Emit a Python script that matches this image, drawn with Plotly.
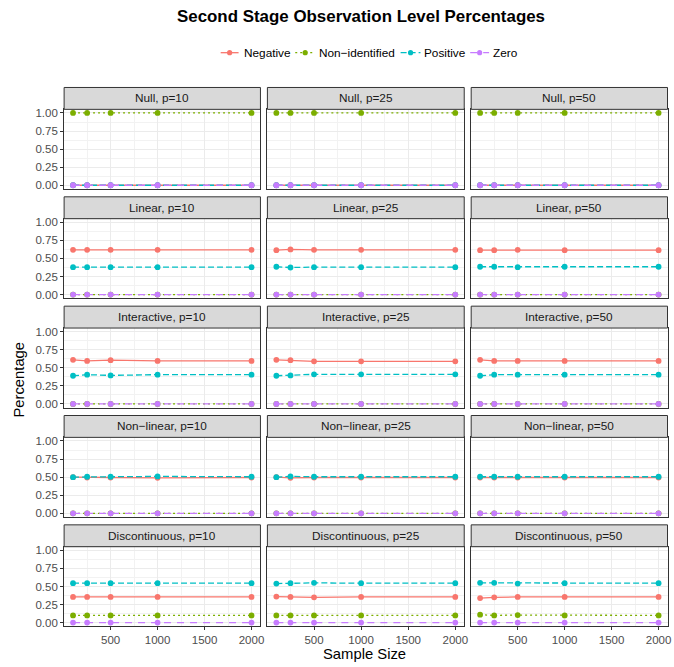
import plotly.graph_objects as go

W, H = 674, 667

sample_sizes = [100, 250, 500, 1000, 2000]
models = ["Null", "Linear", "Interactive", "Non\u2212linear", "Discontinuous"]
p_values = [10, 25, 50]
series_names = ["Negative", "Non\u2212identified", "Positive", "Zero"]
series_colors = ["#F8766D", "#7CAE00", "#00BFC4", "#C77CFF"]
series_dashes = ["solid", "2px,3px", "6px,3px", "7px,6px"]

zeros = [0, 0, 0, 0, 0]
null_neg = [0, 0, 0, 0, 0]
null_nonid = [1, 1, 1, 1, 1]
null_pos = [0, 0, 0, 0, 0]

lin10_neg = [0.62, 0.62, 0.62, 0.62, 0.62]
lin10_pos = [0.38, 0.38, 0.38, 0.38, 0.38]
lin25_neg = [0.615, 0.625, 0.62, 0.62, 0.62]
lin25_pos = [0.385, 0.375, 0.38, 0.38, 0.38]
lin50_neg = [0.615, 0.615, 0.62, 0.615, 0.615]
lin50_pos = [0.385, 0.385, 0.38, 0.385, 0.385]

int10_neg = [0.61, 0.595, 0.605, 0.595, 0.595]
int10_pos = [0.39, 0.405, 0.395, 0.405, 0.405]
int25_neg = [0.61, 0.605, 0.59, 0.59, 0.59]
int25_pos = [0.39, 0.395, 0.41, 0.41, 0.41]
int50_neg = [0.61, 0.595, 0.595, 0.595, 0.595]
int50_pos = [0.39, 0.405, 0.405, 0.405, 0.405]

nl10_neg = [0.5, 0.495, 0.495, 0.49, 0.495]
nl10_pos = [0.5, 0.505, 0.505, 0.51, 0.505]
nl25_neg = [0.5, 0.49, 0.495, 0.495, 0.495]
nl25_pos = [0.5, 0.51, 0.505, 0.505, 0.505]
nl50_neg = [0.495, 0.495, 0.495, 0.495, 0.495]
nl50_pos = [0.505, 0.505, 0.505, 0.505, 0.505]

dis10_neg = [0.355, 0.355, 0.355, 0.355, 0.355]
dis10_nonid = [0.10, 0.10, 0.10, 0.10, 0.10]
dis10_pos = [0.545, 0.545, 0.545, 0.545, 0.545]
dis25_neg = [0.36, 0.355, 0.35, 0.355, 0.355]
dis25_nonid = [0.10, 0.10, 0.10, 0.10, 0.10]
dis25_pos = [0.54, 0.545, 0.55, 0.545, 0.545]
dis50_neg = [0.34, 0.35, 0.355, 0.355, 0.355]
dis50_nonid = [0.11, 0.10, 0.105, 0.10, 0.10]
dis50_pos = [0.55, 0.55, 0.54, 0.545, 0.545]

panel_values = [
    [[null_neg, null_nonid, null_pos, zeros]] * 3,
    [[lin10_neg, zeros, lin10_pos, zeros], [lin25_neg, zeros, lin25_pos, zeros], [lin50_neg, zeros, lin50_pos, zeros]],
    [[int10_neg, zeros, int10_pos, zeros], [int25_neg, zeros, int25_pos, zeros], [int50_neg, zeros, int50_pos, zeros]],
    [[nl10_neg, zeros, nl10_pos, zeros], [nl25_neg, zeros, nl25_pos, zeros], [nl50_neg, zeros, nl50_pos, zeros]],
    [[dis10_neg, dis10_nonid, dis10_pos, zeros], [dis25_neg, dis25_nonid, dis25_pos, zeros], [dis50_neg, dis50_nonid, dis50_pos, zeros]],
]

x_ticks = [500, 1000, 1500, 2000]
x_minor = [250, 750, 1250, 1750]
y_ticks = [0, 0.25, 0.5, 0.75, 1.0]
y_ticktext = ["0.00", "0.25", "0.50", "0.75", "1.00"]
y_minor = [0.125, 0.375, 0.625, 0.875]

# pixel layout
col_px = [(64.5, 262), (269, 467), (474, 671.5)]
row_px = [(86, 108, 188), (196, 218, 298), (306, 328, 408), (416, 438, 518), (526, 548, 628)]
legend_key_px = [(222, 240, 245), (297, 317, 321), (403, 423, 427), (473, 492, 496)]
legend_y_px = 51

FONT = "Liberation Sans, Arial, Helvetica, sans-serif"

def px_x(v):
    return v / W

def px_y(v):
    return 1 - v / H

fig = go.Figure()
layout = {}
shapes = []
annotations = []

for r, model in enumerate(models):
    for c, p in enumerate(p_values):
        idx = r * 3 + c + 1
        xa = "x" if idx == 1 else f"x{idx}"
        ya = "y" if idx == 1 else f"y{idx}"
        vals = panel_values[r][c]
        for s, name in enumerate(series_names):
            fig.add_trace(go.Scatter(
                x=sample_sizes, y=vals[s], mode="lines+markers", name=name,
                legendgroup=name, showlegend=False,
                line=dict(color=series_colors[s], width=1.3, dash=series_dashes[s]),
                marker=dict(color=series_colors[s], size=5.8),
                xaxis=xa, yaxis=ya,
            ))
        x0, x1 = col_px[c]
        st, sb, pb = row_px[r]
        bottom = (r == len(models) - 1)
        left = (c == 0)
        layout["xaxis" if idx == 1 else f"xaxis{idx}"] = dict(
            domain=[px_x(x0), px_x(x1)], anchor=ya, range=[5, 2095],
            tickvals=x_ticks, ticktext=[str(t) for t in x_ticks],
            showticklabels=bottom, ticks="outside" if bottom else "",
            ticklen=3, tickcolor="#333333", tickwidth=1,
            tickfont=dict(family=FONT, size=11.5, color="#4D4D4D"),
            showgrid=True, gridcolor="#EBEBEB", gridwidth=1.1,
            minor=dict(tickvals=x_minor, showgrid=True, gridcolor="#F2F2F2", gridwidth=0.6, ticks=""),
            showline=True, mirror=True, linecolor="#333333", linewidth=1,
            zeroline=False, fixedrange=True,
        )
        layout["yaxis" if idx == 1 else f"yaxis{idx}"] = dict(
            domain=[px_y(pb), px_y(sb)], anchor=xa, range=[-0.05, 1.05],
            tickvals=y_ticks, ticktext=y_ticktext,
            showticklabels=left, ticks="outside" if left else "",
            ticklen=3, tickcolor="#333333", tickwidth=1,
            tickfont=dict(family=FONT, size=11.5, color="#4D4D4D"),
            showgrid=True, gridcolor="#EBEBEB", gridwidth=1.1,
            minor=dict(tickvals=y_minor, showgrid=True, gridcolor="#F2F2F2", gridwidth=0.6, ticks=""),
            showline=True, mirror=True, linecolor="#333333", linewidth=1,
            zeroline=False, fixedrange=True,
        )
        shapes.append(dict(type="rect", xref="paper", yref="paper",
                           x0=px_x(x0), x1=px_x(x1), y0=px_y(sb), y1=px_y(st),
                           fillcolor="#D9D9D9", line=dict(color="#333333", width=1), layer="above"))
        annotations.append(dict(text=f"{model}, p={p}", xref="paper", yref="paper",
                                x=px_x((x0 + x1) / 2), y=px_y((st + sb) / 2),
                                xanchor="center", yanchor="middle", showarrow=False,
                                font=dict(family=FONT, size=11.8, color="#1A1A1A")))

# legend (drawn as keys + text, ggplot style)
for s, name in enumerate(series_names):
    k0, k1, t0 = legend_key_px[s]
    shapes.append(dict(type="line", xref="paper", yref="paper",
                       x0=px_x(k0), x1=px_x(k1), y0=px_y(legend_y_px), y1=px_y(legend_y_px),
                       line=dict(color=series_colors[s], width=1.3, dash=series_dashes[s])))
    cx = (k0 + k1) / 2
    shapes.append(dict(type="circle", xref="paper", yref="paper",
                       x0=px_x(cx - 2.6), x1=px_x(cx + 2.6),
                       y0=px_y(legend_y_px + 2.6), y1=px_y(legend_y_px - 2.6),
                       fillcolor=series_colors[s], line=dict(width=0)))
    annotations.append(dict(text=name, xref="paper", yref="paper",
                            x=px_x(t0), y=px_y(legend_y_px), xanchor="left", yanchor="middle",
                            showarrow=False, xshift=-2,
                            font=dict(family=FONT, size=11.8, color="#000000")))

annotations.append(dict(text="<b>Second Stage Observation Level Percentages</b>", xref="paper", yref="paper",
                        x=px_x(363), y=px_y(15), xanchor="center", yanchor="middle", showarrow=False,
                        font=dict(family=FONT, size=16.9, color="#000000")))
annotations.append(dict(text="Sample Size", xref="paper", yref="paper",
                        x=px_x(366.5), y=px_y(656), xanchor="center", yanchor="middle", showarrow=False,
                        font=dict(family=FONT, size=14.8, color="#000000")))
annotations.append(dict(text="Percentage", xref="paper", yref="paper",
                        x=px_x(19), y=px_y(380), xanchor="center", yanchor="middle", showarrow=False,
                        textangle=-90, font=dict(family=FONT, size=14.8, color="#000000")))

fig.update_layout(
    width=W, height=H,
    margin=dict(l=0, r=0, t=0, b=0),
    paper_bgcolor="white", plot_bgcolor="white",
    shapes=shapes, annotations=annotations,
    showlegend=False, hovermode=False,
    font=dict(family=FONT),
    **layout,
)

fig.write_html("out.html", config={"displayModeBar": False, "staticPlot": False},
               post_script="document.body.style.margin='0px';document.body.style.overflow='hidden';")
